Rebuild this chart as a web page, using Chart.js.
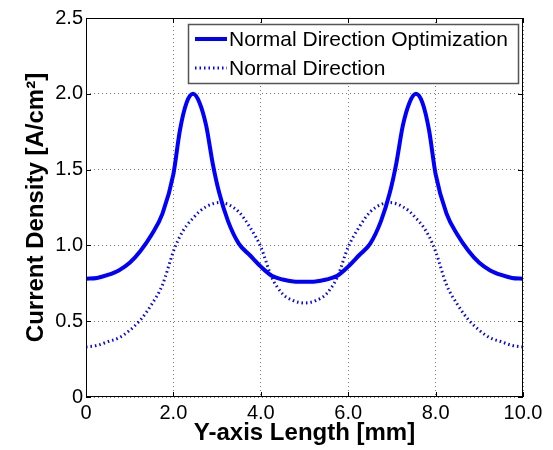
<!DOCTYPE html>
<html>
<head>
<meta charset="utf-8">
<script src="https://cdn.jsdelivr.net/npm/chart.js@4"></script>
<style>
  html, body { margin: 0; padding: 0; background: #fff; }
  #wrap { width: 553px; height: 450px; }
</style>
</head>
<body>
<div id="wrap"><canvas id="curva"></canvas></div>
<script>
// posição ao longo do eixo Y [mm]
const posicoes = [0, 0.25, 0.5, 0.75, 1, 1.25, 1.5, 1.75, 2, 2.15, 2.3, 2.45, 2.6, 2.75, 2.9, 3.05, 3.25, 3.5, 3.75, 4, 4.25, 4.5, 4.75,
  5, 5.25, 5.5, 5.75, 6, 6.25, 6.5, 6.75, 6.95, 7.1, 7.25, 7.4, 7.55, 7.7, 7.85, 8, 8.25, 8.5, 8.75, 9, 9.25, 9.5, 9.75, 10];

// densidade de corrente [A/cm2]
const otimizada = [0.78, 0.785, 0.805, 0.835, 0.885, 0.965, 1.07, 1.21, 1.47, 1.76, 1.94, 2.0, 1.94, 1.79, 1.54, 1.345, 1.16, 1.01, 0.935, 0.86, 0.8, 0.775, 0.762,
  0.76, 0.762, 0.775, 0.8, 0.86, 0.935, 1.01, 1.16, 1.345, 1.54, 1.79, 1.94, 2.0, 1.94, 1.76, 1.47, 1.21, 1.07, 0.965, 0.885, 0.835, 0.805, 0.785, 0.78];

const normal = [0.33, 0.34, 0.365, 0.39, 0.44, 0.51, 0.61, 0.74, 0.96, 1.06, 1.13, 1.18, 1.225, 1.255, 1.275, 1.283, 1.27, 1.22, 1.12, 0.99, 0.79, 0.68, 0.635,
  0.62, 0.635, 0.68, 0.79, 0.99, 1.12, 1.22, 1.27, 1.283, 1.275, 1.255, 1.225, 1.18, 1.13, 1.06, 0.96, 0.74, 0.61, 0.51, 0.44, 0.39, 0.365, 0.34, 0.33];

const rotulos = ['Normal Direction Optimization', 'Normal Direction'];

const fonte = 'Liberation Sans, Arial, Helvetica, sans-serif';
const azul = '#0000ff';

const pontos = (ys) => posicoes.map((x, i) => ({ x: x, y: ys[i] }));
const formata = (v) => v === 0 ? '0' : Number(v).toFixed(1);

// moldura com marcas de escala para dentro, nos quatro lados
const moldura = {
  id: 'moldura',
  afterDatasetsDraw(chart) {
    const { ctx, chartArea: a, scales } = chart;
    ctx.save();
    ctx.strokeStyle = '#000';
    ctx.lineWidth = 1;
    ctx.strokeRect(a.left + 0.5, a.top + 0.5, a.right - a.left - 1, a.bottom - a.top - 1);
    const m = 5;
    ctx.beginPath();
    scales.x.ticks.forEach(t => {
      const px = Math.round(scales.x.getPixelForValue(t.value)) + 0.5;
      ctx.moveTo(px, a.bottom); ctx.lineTo(px, a.bottom - m);
      ctx.moveTo(px, a.top); ctx.lineTo(px, a.top + m);
    });
    scales.y.ticks.forEach(t => {
      const py = Math.round(scales.y.getPixelForValue(t.value)) + 0.5;
      ctx.moveTo(a.left, py); ctx.lineTo(a.left + m, py);
      ctx.moveTo(a.right, py); ctx.lineTo(a.right - m, py);
    });
    ctx.stroke();
    ctx.restore();
  }
};

// legenda dentro da área do gráfico, com caixa
const legendaCaixa = {
  id: 'legendaCaixa',
  afterDraw(chart) {
    const { ctx, chartArea: a } = chart;
    const w = 330, h = 59;
    const x0 = a.right - 5 - w, y0 = a.top + 6;
    ctx.save();
    ctx.fillStyle = '#fff';
    ctx.fillRect(x0, y0, w, h);
    ctx.strokeStyle = '#555';
    ctx.lineWidth = 1.5;
    ctx.strokeRect(x0 + 0.5, y0 + 0.5, w, h);
    ctx.font = '21px ' + fonte;
    ctx.textBaseline = 'middle';
    chart.data.datasets.forEach((ds, i) => {
      const cy = y0 + 15 + i * 29;
      ctx.strokeStyle = ds.borderColor;
      ctx.lineWidth = ds.borderWidth;
      ctx.setLineDash(ds.borderDash || []);
      ctx.beginPath();
      ctx.moveTo(x0 + 7, cy);
      ctx.lineTo(x0 + 39, cy);
      ctx.stroke();
      ctx.setLineDash([]);
      ctx.fillStyle = '#000';
      ctx.fillText(ds.label, x0 + 41, cy + 1);
    });
    ctx.restore();
  }
};

new Chart(document.getElementById('curva'), {
  type: 'line',
  data: {
    datasets: [{
      label: rotulos[0],
      data: pontos(otimizada),
      borderColor: azul,
      borderWidth: 4,
      pointRadius: 0,
      cubicInterpolationMode: 'monotone'
    }, {
      label: rotulos[1],
      data: pontos(normal),
      borderColor: azul,
      borderWidth: 3,
      borderDash: [1.5, 3],
      pointRadius: 0,
      cubicInterpolationMode: 'monotone'
    }]
  },
  options: {
    responsive: true,
    maintainAspectRatio: false,
    animation: false,
    layout: { padding: { left: 0, top: 18, right: 30, bottom: 0 } },
    plugins: {
      legend: { display: false },
      tooltip: { enabled: false }
    },
    scales: {
      x: {
        type: 'linear',
        min: 0,
        max: 10,
        afterFit: (s) => { s.height = 53; },
        ticks: {
          stepSize: 2,
          padding: 4,
          color: '#000',
          font: { family: fonte, size: 20 },
          callback: formata
        },
        grid: { color: '#777', drawTicks: false },
        border: { display: false, dash: [1, 3] },
        title: {
          display: true,
          text: 'Y-axis Length [mm]',
          color: '#000',
          font: { family: fonte, size: 24, weight: 'bold' },
          padding: { top: 2, bottom: 2 }
        }
      },
      y: {
        min: 0,
        max: 2.5,
        afterFit: (s) => { s.width = 86; },
        ticks: {
          stepSize: 0.5,
          padding: 3,
          color: '#000',
          font: { family: fonte, size: 20 },
          callback: formata
        },
        grid: { color: '#777', drawTicks: false },
        border: { display: false, dash: [1, 3] },
        title: {
          display: true,
          text: 'Current Density [A/cm²]',
          color: '#000',
          font: { family: fonte, size: 24, weight: 'bold' },
          padding: { top: 22, bottom: 0 }
        }
      }
    }
  },
  plugins: [moldura, legendaCaixa]
});
</script>
</body>
</html>
